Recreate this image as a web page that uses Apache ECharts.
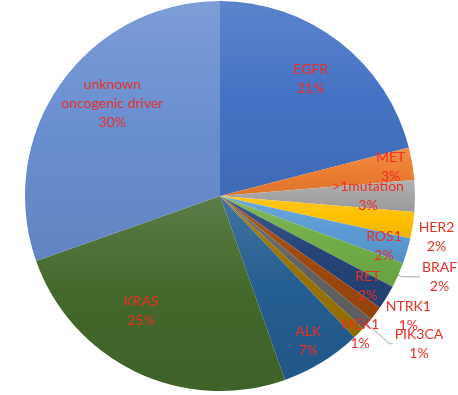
<!DOCTYPE html>
<html>
<head>
<meta charset="utf-8">
<script src="https://cdn.jsdelivr.net/npm/echarts@6/dist/echarts.min.js"></script>
<style>
html,body{margin:0;padding:0;background:#fff;}
#chart{width:458px;height:395px;}
</style>
</head>
<body>
<div id="chart"></div>
<script>
// ---- data ----
const categories = ['EGFR','MET','>1mutation','HER2','ROS1','BRAF','RET','NTRK1','PIK3CA','MEK1','ALK','KRAS','unknown oncogenic driver'];
const labelNames = ['EGFR','MET','>1mutation','HER2','ROS1','BRAF','RET','NTRK1','PIK3CA','MEK1','ALK','KRAS','unknown\noncogenic driver'];
const shares = [21, 2.7, 2.6, 2.2, 2.1, 2.1, 2.0, 1.2, 1.0, 1.0, 6.7, 25.0, 30.4];
const colors = ['#4472C4','#ED7D31','#A5A5A5','#FFC000','#5B9BD5','#70AD47','#264478','#9E480E','#636363','#997300','#255E91','#43682B','#698ED0'];

// ---- style ----
const CENTER = [220, 196];
const R = 195;
const RED = '#EC2F25';
const FONT = 'Lato';

function mix(hex, target, t) {
  const n = parseInt(hex.slice(1), 16);
  const c = [(n >> 16) & 255, (n >> 8) & 255, n & 255];
  const r = c.map(v => Math.round(v + (target - v) * t));
  return 'rgb(' + r.join(',') + ')';
}
function shade(hex) {
  return new echarts.graphic.LinearGradient(0, 0, 0, 1, [
    { offset: 0, color: mix(hex, 255, 0.13) },
    { offset: 0.5, color: hex },
    { offset: 1, color: mix(hex, 0, 0.07) }
  ]);
}

const rich = { t: { align: 'center', fontSize: 14, lineHeight: 19, color: RED, fontFamily: FONT } };
function fmt(p) {
  const lines = labelNames[p.dataIndex].split('\n');
  lines.push(Math.round(p.percent) + '%');
  return lines.map(l => '{t|' + l + '}').join('\n');
}

// label ring groups (inner radius, outer radius) -> label sits at mid radius
const ringGroups = [
  { radius: [100, 190], names: { 'EGFR': [0,0], '>1mutation': [0,0], 'KRAS': [-15,-19], 'unknown oncogenic driver': [13,-7] } },
  { radius: [150, 190], names: { 'MET': [0,0], 'ROS1': [-2,1], 'RET': [0,0], 'ALK': [-2,-3] } },
  { radius: [180, 208], names: { 'MEK1': [0,0] } },
  { radius: [200, 236], names: { 'HER2': [-2,8], 'NTRK1': [12,-13] } }
];
const outsideWithLine = { 'BRAF': { length: 4, length2: 18 }, 'PIK3CA': { length: 30, length2: 3 } };

const mainData = categories.map((c, i) => {
  const d = { name: c, value: shares[i], itemStyle: { color: shade(colors[i]) } };
  if (outsideWithLine[c]) {
    d.label = { show: true };
    d.labelLine = { show: true, length: outsideWithLine[c].length, length2: outsideWithLine[c].length2 };
  } else {
    d.label = { show: false };
    d.labelLine = { show: false };
  }
  return d;
});

const series = [{
  type: 'pie',
  center: CENTER,
  radius: [0, R],
  startAngle: 90,
  clockwise: true,
  avoidLabelOverlap: false,
  labelLayout: { hideOverlap: false },
  silent: true,
  itemStyle: { borderWidth: 0 },
  label: { position: 'outside', formatter: fmt, rich: rich, distanceToLabelLine: 2 },
  labelLine: { lineStyle: { color: '#A6A6A6', width: 1 }, smooth: false },
  data: mainData
}];

ringGroups.forEach(g => {
  series.push({
    type: 'pie',
    center: CENTER,
    radius: g.radius,
    startAngle: 90,
    clockwise: true,
    avoidLabelOverlap: false,
    labelLayout: { hideOverlap: false },
    silent: true,
    z: 5,
    itemStyle: { color: 'rgba(0,0,0,0)', borderWidth: 0 },
    labelLine: { show: false },
    label: { position: 'inside', formatter: fmt, rich: rich },
    data: categories.map((c, i) => {
      const off = g.names[c];
      return { name: c, value: shares[i], label: off ? { show: true, offset: off } : { show: false } };
    })
  });
});

const chart = echarts.init(document.getElementById('chart'), null, { renderer: 'canvas' });
chart.setOption({ animation: false, backgroundColor: '#fff', series: series });
</script>
</body>
</html>
